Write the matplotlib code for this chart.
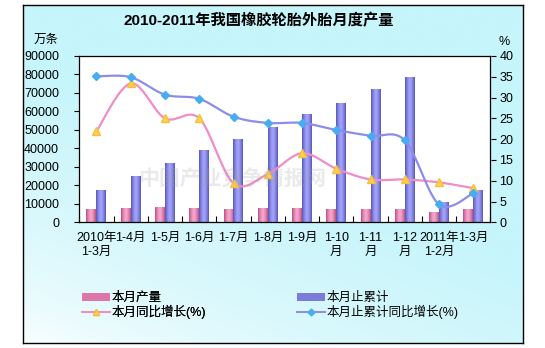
import numpy as np
import matplotlib
matplotlib.use("Agg")
import matplotlib.pyplot as plt
from matplotlib.patches import Rectangle
from matplotlib.lines import Line2D
from matplotlib.colors import to_rgb

plt.rcParams['font.family'] = ['Liberation Sans', 'Noto Sans CJK SC', 'DejaVu Sans']

# ---- data ----
categories = ["2010年\n1-3月", "1-4月", "1-5月", "1-6月", "1-7月", "1-8月", "1-9月",
              "1-10\n月", "1-11\n月", "1-12\n月", "2011年\n1-2月", "1-3月"]
monthly_output = [6600, 7200, 7800, 7200, 6600, 7200, 7200, 6800, 6700, 6700, 5000, 6800]
cumulative_output = [17100, 24500, 31800, 38900, 44900, 51300, 58400, 64400, 71600, 78200, 10500, 17100]
monthly_growth = [21.9, 33.4, 25.0, 25.0, 9.4, 11.6, 16.6, 12.9, 10.3, 10.3, 9.6, 8.2]
cumulative_growth = [35.1, 34.9, 30.7, 29.7, 25.4, 23.9, 23.9, 22.2, 20.8, 19.7, 4.3, 7.0]

left_ticks = [0, 10000, 20000, 30000, 40000, 50000, 60000, 70000, 80000, 90000]
right_ticks = [0, 5, 10, 15, 20, 25, 30, 35, 40]

W, H = 545, 348
fig = plt.figure(figsize=(W / 100, H / 100), dpi=100)
fig.patch.set_facecolor("white")


def fx(px):
    return px / W


def fy(py):
    return 1 - py / H


# ---- background panel with diagonal gradient ----
bg = fig.add_axes([fx(23), fy(343), fx(500), 338 / H], zorder=-5)
gx, gy = np.meshgrid(np.linspace(0, 1, 200), np.linspace(0, 1, 200))
t = np.clip((gx * 0.6 + gy * 1.0) * 1.2, 0, 1) ** 0.55
c0 = np.array(to_rgb("#ffffff"))
c1 = np.array(to_rgb("#c6f5fb"))
grad = c0[None, None, :] * (1 - t[..., None]) + c1[None, None, :] * t[..., None]
bg.imshow(grad, origin="lower", extent=[0, 1, 0, 1], aspect="auto")
bg.set_xlim(0, 1)
bg.set_ylim(0, 1)
for s in bg.spines.values():
    s.set_linewidth(1.0)
    s.set_color("black")
bg.set_xticks([])
bg.set_yticks([])

# ---- main axes ----
ax = fig.add_axes([fx(79.3), fy(222.3), fx(490.5 - 79.3), (222.3 - 56) / H])
ax.set_facecolor("white")
n = len(categories)
x = np.arange(n)
bw = 0.29


def bar_gradient(edge, mid):
    e = np.array(to_rgb(edge))
    m = np.array(to_rgb(mid))
    s = np.linspace(-1, 1, 40)
    k = 1 - np.abs(s) ** 1.5
    return (e[None, :] * (1 - k[:, None]) + m[None, :] * k[:, None])[None, :, :]


pink_grad = bar_gradient("#b9507f", "#f7a6cf")
blue_grad = bar_gradient("#5656b8", "#a3a3fb")

pink_bars = ax.bar(x - bw / 2, monthly_output, width=bw, color="none", edgecolor="none")
blue_bars = ax.bar(x + bw / 2, cumulative_output, width=bw, color="none", edgecolor="none")
for bars, g in ((pink_bars, pink_grad), (blue_bars, blue_grad)):
    for r in bars:
        x0, y0 = r.get_x(), r.get_y()
        ax.imshow(g, extent=[x0, x0 + r.get_width(), y0, y0 + r.get_height()],
                  aspect="auto", origin="lower", zorder=2, interpolation="bilinear")

ax.set_xlim(-0.5, n - 0.5)
ax.set_ylim(0, 90000)
ax.set_yticks(left_ticks)
ax.set_yticklabels([str(v) for v in left_ticks])
ax.tick_params(axis="y", direction="out", length=3.5, width=0.8, pad=11, labelsize=9,
               colors="black")
ax.set_xticks(x)
ax.set_xticklabels(categories, linespacing=1.25)
ax.tick_params(axis="x", length=0, pad=7, labelsize=9)
ax.set_xticks(np.arange(n + 1) - 0.5, minor=True)
ax.tick_params(axis="x", which="minor", direction="in", length=4, width=0.8)
for s in ax.spines.values():
    s.set_linewidth(0.9)
    s.set_color("black")

# ---- growth lines on the secondary axis ----
ax2 = ax.twinx()
ax2.set_ylim(0, 40)
ax2.set_yticks(right_ticks)
ax2.tick_params(axis="y", direction="out", length=3.5, width=0.8, pad=3, labelsize=9)
ax2.set_xlim(-0.5, n - 0.5)


def smooth(xs, ys, steps=20):
    xs = np.asarray(xs, float)
    ys = np.asarray(ys, float)
    px, py = [], []
    m = len(xs)
    for i in range(m - 1):
        p0 = (xs[max(i - 1, 0)], ys[max(i - 1, 0)])
        p1 = (xs[i], ys[i])
        p2 = (xs[i + 1], ys[i + 1])
        p3 = (xs[min(i + 2, m - 1)], ys[min(i + 2, m - 1)])
        b1 = (p1[0] + (p2[0] - p0[0]) / 6, p1[1] + (p2[1] - p0[1]) / 6)
        b2 = (p2[0] - (p3[0] - p1[0]) / 6, p2[1] - (p3[1] - p1[1]) / 6)
        tt = np.linspace(0, 1, steps, endpoint=(i == m - 2))
        for q in tt:
            a = (1 - q) ** 3
            b = 3 * (1 - q) ** 2 * q
            c = 3 * (1 - q) * q ** 2
            d = q ** 3
            px.append(a * p1[0] + b * b1[0] + c * b2[0] + d * p2[0])
            py.append(a * p1[1] + b * b1[1] + c * b2[1] + d * p2[1])
    return np.array(px), np.array(py)


sx, sy = smooth(x, monthly_growth)
ax2.plot(sx, sy, color="#f08cc8", lw=1.6, zorder=3)
ax2.plot(x, monthly_growth, ls="none", marker="^", ms=5.5, mfc="#ffd24a",
         mec="#f5c040", zorder=4)
sx, sy = smooth(x, cumulative_growth)
ax2.plot(sx, sy, color="#8c8cea", lw=1.6, zorder=3)
ax2.plot(x, cumulative_growth, ls="none", marker="D", ms=4.5, mfc="#46aef0",
         mec="#46aef0", zorder=4)
for s in ax2.spines.values():
    s.set_visible(False)

# watermark
fig.text(fx(232), fy(180), "中国产业竞争情报网", fontsize=15, fontweight="bold",
         color="#a0a0a0", alpha=0.22, ha="center", va="center", zorder=10)

# ---- titles and unit labels ----
fig.text(fx(259), fy(21), "2010-2011年我国橡胶轮胎外胎月度产量", fontsize=11,
         fontweight="bold", ha="center", va="center")
fig.text(fx(46), fy(40), "万条", fontsize=9, ha="center", va="center")
fig.text(fx(504), fy(42), "%", fontsize=9, ha="center", va="center")

# ---- legend ----
pink_patch = Rectangle((0, 0), 1, 1, facecolor="#dd77aa", edgecolor="none")
blue_patch = Rectangle((0, 0), 1, 1, facecolor="#7b7bd9", edgecolor="none")
pink_line = Line2D([], [], color="#f08cc8", lw=1.4, marker="^", ms=4.5,
                   mfc="#ffd24a", mec="#f5c040")
blue_line = Line2D([], [], color="#8c8cea", lw=1.4, marker="D", ms=3.5,
                   mfc="#46aef0", mec="#46aef0")
leg_kw = dict(frameon=False, fontsize=9, handlelength=2.2, handleheight=0.6,
              handletextpad=0.15, labelspacing=0.05, borderpad=0, borderaxespad=0,
              loc="upper left")
l1 = fig.legend([pink_patch, pink_line], ["本月产量", "本月同比增长(%)"],
                bbox_to_anchor=(fx(82), fy(292)), **leg_kw)
fig.add_artist(l1)
fig.legend([blue_patch, blue_line], ["本月止累计", "本月止累计同比增长(%)"],
           bbox_to_anchor=(fx(297), fy(292)), **leg_kw)

fig.savefig("out.png", dpi=100, facecolor="white")
